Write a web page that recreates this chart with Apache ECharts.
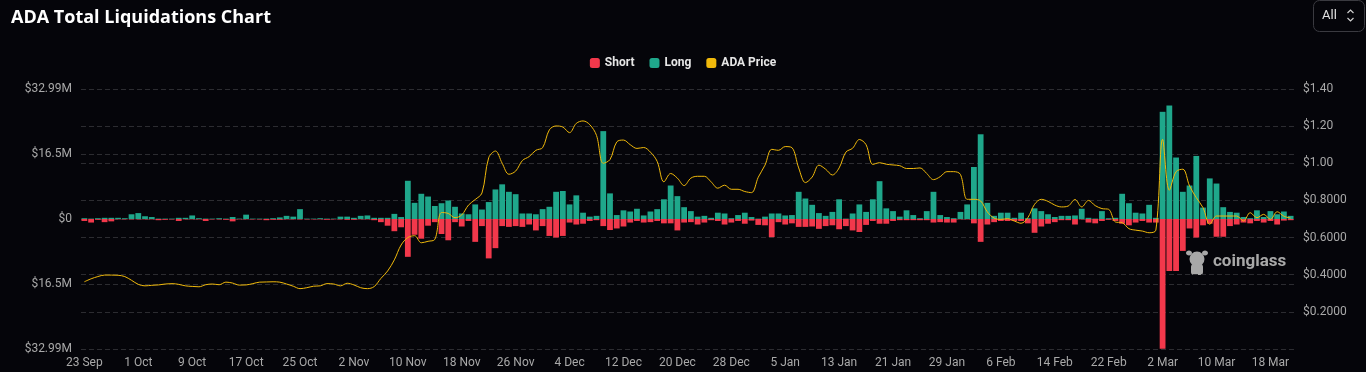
<!DOCTYPE html>
<html><head><meta charset="utf-8">
<script src="https://cdn.jsdelivr.net/npm/echarts@6/dist/echarts.min.js"></script>
<style>html,body{margin:0;padding:0;background:#05050a;}#c{width:1366px;height:372px;}</style>
</head><body><div id="c"></div>
<script>
// Daily categories: 23 Sep 2024 .. 21 Mar 2025 (180 days)
const MONTHS = ['Jan','Feb','Mar','Apr','May','Jun','Jul','Aug','Sep','Oct','Nov','Dec'];
const categories = [];
for (let i = 0; i < 180; i++) {
  const d = new Date(Date.UTC(2024, 8, 23 + i));
  categories.push(d.getUTCDate() + ' ' + MONTHS[d.getUTCMonth()]);
}

// Long liquidations ($M)
const longLiq = [
0.2,0.1,0.2,0.3,0.3,0.3,0.2,1.2,1.5,0.7,
0.5,0.1,0.1,0.1,0.3,0.3,0.9,0.2,0.1,0.1,
0.2,0.1,0.5,0.1,1.1,0.1,0.1,0.1,0.2,0.4,
0.8,0.6,2.5,0.1,0.1,0.2,0.1,0.1,0.6,0.6,
0.3,0.8,0.9,0.3,0.3,0.3,1.3,0.5,9.7,4.1,
6.4,5.7,3.3,4.0,4.7,3.1,1.4,1.2,3.7,2.4,
4.3,7.5,8.8,6.9,6.3,1.4,1.4,1.2,2.5,3.1,
6.9,7.1,3.7,6.0,1.6,0.6,0.8,22.3,6.5,1.0,
2.2,1.9,2.6,0.9,1.9,2.5,5.0,8.5,5.8,3.0,
2.0,0.6,0.8,0.3,1.6,1.4,0.2,1.0,1.6,0.5,
0.1,0.6,1.4,1.4,0.9,1.0,6.9,5.2,3.6,1.5,
0.8,1.8,5.0,0.1,1.4,3.7,1.8,5.0,9.6,2.7,
2.0,0.6,2.2,1.0,0.2,2.0,6.9,1.0,0.5,0.2,
1.8,3.7,13.2,21.5,4.1,0.8,1.6,1.6,0.3,1.6,
0.2,2.7,2.0,1.2,0.5,0.8,0.8,0.9,2.6,0.3,
0.1,2.0,0.2,0.3,6.4,4.0,1.6,1.4,3.6,0.3,
27.2,28.8,15.6,6.9,8.5,16.0,2.9,10.3,9.0,3.0,
1.8,1.6,0.5,0.2,2.2,0.5,2.0,1.2,1.9,0.8
];

// Short liquidations ($M, magnitude; drawn below zero)
const shortLiq = [
0.5,0.9,0.2,0.8,0.6,0.1,0.1,0.1,0.1,0.1,
0.1,0.3,0.2,0.1,0.5,0.1,0.1,0.1,0.5,0.1,
0.1,0.2,0.6,0.1,0.1,0.1,0.1,0.3,0.2,0.2,
0.1,0.1,0.1,0.1,0.1,0.1,0.2,0.1,0.1,0.2,
0.2,0.1,0.1,0.3,0.8,1.7,3.1,2.1,9.6,4.0,
5.0,1.7,0.8,3.8,5.4,0.8,1.9,0.5,5.8,1.8,
10.0,7.4,1.8,2.0,1.8,2.0,1.4,2.9,1.8,4.3,
4.7,4.3,0.9,1.4,1.2,0.5,0.3,1.8,2.8,2.4,
1.9,0.9,0.5,0.9,0.8,0.5,1.1,1.1,2.9,0.9,
0.8,1.4,0.9,0.3,0.5,1.4,0.9,0.5,1.2,0.4,
1.5,1.6,4.6,0.8,1.4,1.1,2.0,2.0,1.9,2.5,
1.8,1.6,2.6,1.8,2.9,3.3,1.5,0.5,1.2,1.2,
0.5,0.3,0.3,0.3,0.3,0.3,0.9,0.8,0.9,0.9,
0.1,0.1,1.1,5.8,1.4,0.8,0.5,0.5,0.5,0.5,
1.1,3.5,1.9,1.2,0.8,0.3,0.3,1.4,0.1,0.9,
1.1,0.5,0.2,0.5,1.2,1.6,0.9,0.5,0.9,0.9,
32.9,13.2,13.2,8.1,2.4,4.7,1.6,1.2,4.5,4.5,
1.8,1.4,0.9,1.1,0.5,0.9,0.5,1.4,0.4,0.3
];

// ADA price ($)
const adaPrice = [
0.362,0.378,0.390,0.398,0.398,0.397,0.390,0.370,0.348,0.340,
0.343,0.345,0.350,0.352,0.348,0.340,0.337,0.335,0.346,0.350,
0.346,0.360,0.355,0.344,0.345,0.352,0.360,0.361,0.362,0.360,
0.350,0.338,0.325,0.330,0.338,0.340,0.352,0.350,0.340,0.354,
0.345,0.330,0.325,0.336,0.380,0.420,0.480,0.560,0.600,0.610,
0.572,0.580,0.590,0.735,0.730,0.707,0.722,0.775,0.805,0.840,
1.030,1.066,1.000,0.941,0.958,1.015,1.036,1.070,1.084,1.180,
1.201,1.195,1.165,1.215,1.228,1.208,1.150,1.000,1.020,1.115,
1.125,1.100,1.080,1.085,1.060,1.010,0.900,0.945,0.920,0.880,
0.920,0.930,0.930,0.900,0.866,0.882,0.860,0.860,0.848,0.842,
0.925,0.990,1.075,1.070,1.090,1.084,0.975,0.896,0.926,0.990,
0.968,0.937,0.975,1.060,1.081,1.128,1.100,0.994,1.003,0.995,
0.991,0.987,0.972,0.972,0.975,0.945,0.912,0.928,0.955,0.955,
0.940,0.806,0.806,0.797,0.738,0.705,0.698,0.702,0.689,0.677,
0.707,0.779,0.806,0.795,0.775,0.765,0.770,0.805,0.765,0.800,
0.772,0.756,0.752,0.684,0.680,0.648,0.640,0.635,0.626,0.640,
1.129,0.855,0.955,0.968,0.878,0.815,0.761,0.672,0.716,0.716,
0.716,0.716,0.689,0.734,0.707,0.725,0.698,0.739,0.715,0.705
];

const leftTickLabels = ['$32.99M','$16.5M','$0','$16.5M','$32.99M'];
const rightTickLabels = ['','$0.2000','$0.4000','$0.6000','$0.8000','$1.00','$1.20','$1.40'];

const LIQ_MAX = 32.99;
const LIQ_STEP = 16.495;

const chart = echarts.init(document.getElementById('c'), null, {renderer: 'canvas'});
const FONT = 'Roboto, "Noto Sans", sans-serif';
const gridLine = {show: true, lineStyle: {color: '#2c2c31', type: [5, 3], width: 1}};

chart.setOption({
  backgroundColor: '#05050a',
  animation: false,
  textStyle: {fontFamily: FONT},
  title: {
    text: 'ADA Total Liquidations Chart',
    left: 6, top: 4,
    textStyle: {color: '#ffffff', fontSize: 18, fontWeight: 'bold', fontFamily: '"Open Sans", Roboto, sans-serif'}
  },
  legend: {
    top: 52, left: 'center',
    icon: 'roundRect', itemWidth: 10, itemHeight: 10, itemGap: 15,
    textStyle: {color: '#e6e6e6', fontSize: 12, fontWeight: 'bold', fontFamily: FONT},
    data: ['Short', 'Long', 'ADA Price']
  },
  grid: {left: 81, right: 72, top: 89, bottom: 23, containLabel: false},
  xAxis: {
    type: 'category',
    data: categories,
    boundaryGap: true,
    axisLine: {show: false},
    axisTick: {show: false},
    axisLabel: {interval: 7, color: '#a9a9a9', fontSize: 12, margin: 8, fontFamily: FONT},
    splitLine: {show: false}
  },
  yAxis: [
    {
      type: 'value', min: -LIQ_MAX, max: LIQ_MAX, interval: LIQ_STEP,
      axisLine: {show: false}, axisTick: {show: false},
      axisLabel: {
        color: '#a9a9a9', fontSize: 12, margin: 9, fontFamily: FONT,
        formatter: function (v) { return leftTickLabels[Math.round(v / LIQ_STEP) + 2] || ''; }
      },
      splitLine: gridLine
    },
    {
      type: 'value', min: 0, max: 1.4, interval: 0.2, position: 'right',
      axisLine: {show: false}, axisTick: {show: false},
      axisLabel: {
        color: '#a9a9a9', fontSize: 12, margin: 9, fontFamily: FONT,
        formatter: function (v) { return rightTickLabels[Math.round(v / 0.2)] || ''; }
      },
      splitLine: gridLine
    }
  ],
  series: [
    {
      name: 'Short', type: 'bar', yAxisIndex: 0,
      data: shortLiq.map(v => -v),
      itemStyle: {color: '#f2384b'},
      barCategoryGap: '14%', barGap: '-100%'
    },
    {
      name: 'Long', type: 'bar', yAxisIndex: 0,
      data: longLiq,
      itemStyle: {color: '#1fa78b'},
      barCategoryGap: '14%', barGap: '-100%'
    },
    {
      name: 'ADA Price', type: 'line', yAxisIndex: 1,
      data: adaPrice,
      smooth: 0.35, showSymbol: false, symbol: 'none',
      lineStyle: {color: '#f0b90b', width: 1},
      itemStyle: {color: '#f0b90b'},
      z: 5
    }
  ],
  graphic: [
    {type: 'rect', shape: {x: 1313.5, y: 0.5, width: 51, height: 31, r: 6},
     style: {fill: 'transparent', stroke: '#3a3a40', lineWidth: 1}},
    {type: 'text', x: 1322, y: 16, style: {text: 'All', fill: '#e0e0e0', font: '13px ' + FONT, textVerticalAlign: 'middle'}},
    {type: 'polyline', shape: {points: [[1347.5, 13], [1350.5, 10], [1353.5, 13]]},
     style: {stroke: '#cfcfcf', lineWidth: 1.2, fill: null}},
    {type: 'polyline', shape: {points: [[1347.5, 18], [1350.5, 21], [1353.5, 18]]},
     style: {stroke: '#cfcfcf', lineWidth: 1.2, fill: null}},
    {type: 'group', z: 10, children: [
      {type: 'circle', shape: {cx: 1197, cy: 259, r: 7.5}, style: {fill: '#a8a8a8'}},
      {type: 'ellipse', shape: {cx: 1189, cy: 253, rx: 3, ry: 2.5}, style: {fill: '#a8a8a8'}},
      {type: 'ellipse', shape: {cx: 1205, cy: 253, rx: 3, ry: 2.5}, style: {fill: '#a8a8a8'}},
      {type: 'rect', shape: {x: 1191, y: 264, width: 12, height: 11, r: 3}, style: {fill: '#a8a8a8'}}
    ]},
    {type: 'text', x: 1213, y: 262, z: 10,
     style: {text: 'coinglass', fill: '#a8a8a8', font: 'bold 17px ' + FONT, textVerticalAlign: 'middle'}}
  ]
});
</script>
</body></html>
